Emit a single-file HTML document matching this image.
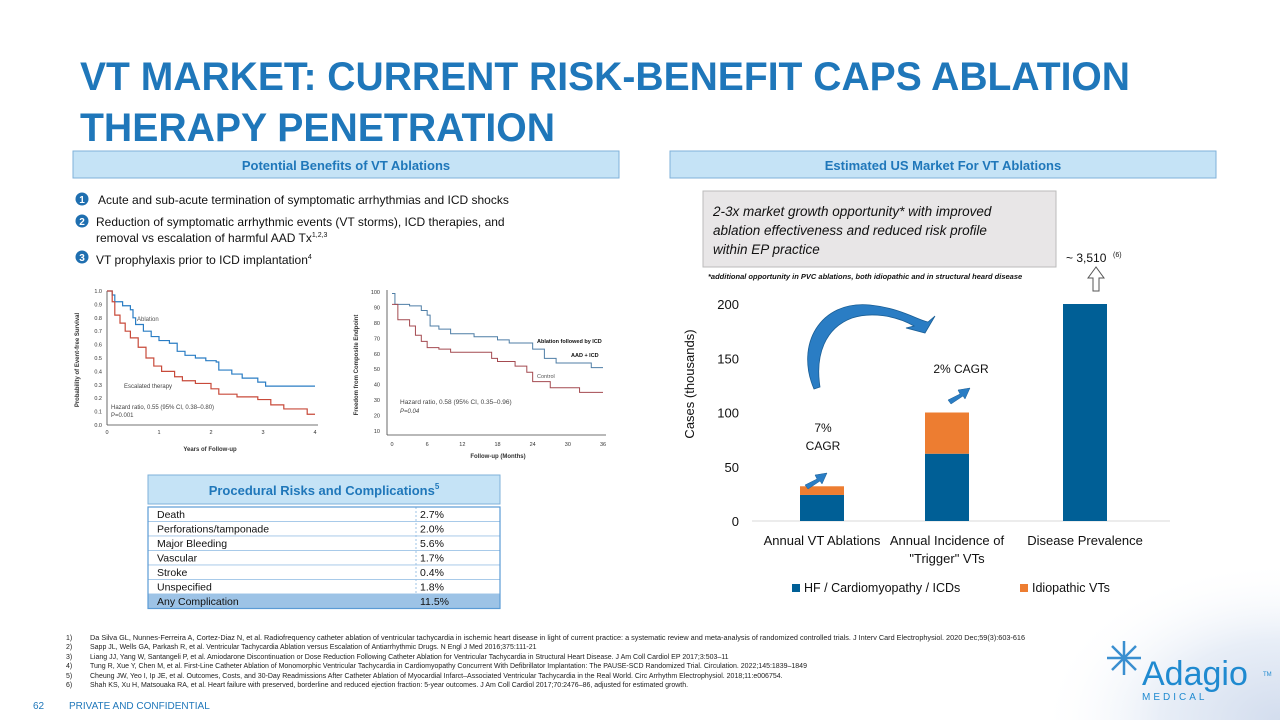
<!DOCTYPE html>
<html><head><meta charset="utf-8">
<style>
html,body{margin:0;padding:0;background:#fff;}
body{width:1280px;height:720px;overflow:hidden;position:relative;font-family:"Liberation Sans",sans-serif;}
svg text{font-family:"Liberation Sans",sans-serif;}
</style></head>
<body>
<svg id="s" width="1280" height="720" viewBox="0 0 1280 720" xmlns="http://www.w3.org/2000/svg">
<defs>
<radialGradient id="frost" cx="1" cy="1" r="1">
<stop offset="0" stop-color="#d3ddee"/><stop offset="0.5" stop-color="#e8eef7"/><stop offset="1" stop-color="#ffffff" stop-opacity="0"/>
</radialGradient>
</defs>
<rect x="1040" y="560" width="240" height="160" fill="url(#frost)"/>

<g fill="#1f77ba" font-weight="bold" font-size="40">
<text x="80" y="90" textLength="1050" lengthAdjust="spacingAndGlyphs">VT MARKET: CURRENT RISK-BENEFIT CAPS ABLATION</text>
<text x="80" y="141" textLength="475" lengthAdjust="spacingAndGlyphs">THERAPY PENETRATION</text>
</g>

<g>
<rect x="73" y="151" width="546" height="27" fill="#c5e3f6" stroke="#7fb2d9" stroke-width="1"/>
<text x="346" y="170" text-anchor="middle" font-size="13" font-weight="bold" fill="#1f77ba">Potential Benefits of VT Ablations</text>
</g>
<g>
<rect x="670" y="151" width="546" height="27" fill="#c5e3f6" stroke="#7fb2d9" stroke-width="1"/>
<text x="943" y="170" text-anchor="middle" font-size="13" font-weight="bold" fill="#1f77ba">Estimated US Market For VT Ablations</text>
</g>

<g font-size="12" fill="#111">
<circle cx="82" cy="199" r="6.5" fill="#1f6fb0"/><text x="82" y="203" text-anchor="middle" fill="#fff" font-size="10" font-weight="bold">1</text>
<text x="98" y="204">Acute and sub-acute termination of symptomatic arrhythmias and ICD shocks</text>
<circle cx="82" cy="221" r="6.5" fill="#1f6fb0"/><text x="82" y="225" text-anchor="middle" fill="#fff" font-size="10" font-weight="bold">2</text>
<text x="96" y="226">Reduction of symptomatic arrhythmic events (VT storms), ICD therapies, and</text>
<text x="96" y="242">removal vs escalation of harmful AAD Tx<tspan font-size="7" dy="-5">1,2,3</tspan></text>
<circle cx="82" cy="257" r="6.5" fill="#1f6fb0"/><text x="82" y="261" text-anchor="middle" fill="#fff" font-size="10" font-weight="bold">3</text>
<text x="96" y="264">VT prophylaxis prior to ICD implantation<tspan font-size="7" dy="-5">4</tspan></text>
</g>

<g id="km1"></g>
<g id="km2"></g>

<g>
<rect x="148" y="475" width="352" height="29" fill="#c5e3f6" stroke="#7fb2d9"/>
<text x="324" y="495" text-anchor="middle" font-size="13" font-weight="bold" fill="#1f77ba">Procedural Risks and Complications<tspan font-size="8" dy="-6">5</tspan></text>
</g>
<g id="tbl"></g>

<g>
<rect x="703" y="191" width="353" height="76" fill="#e8e6e7" stroke="#bbb"/>
<text font-size="13.5" font-style="italic" fill="#111"><tspan x="713" y="216">2-3x market growth opportunity* with improved</tspan><tspan x="713" y="235">ablation effectiveness and reduced risk profile</tspan><tspan x="713" y="254">within EP practice</tspan></text>
</g>
<text x="708" y="279" font-size="7.5" font-style="italic" font-weight="bold" fill="#111">*additional opportunity in PVC ablations, both idiopathic and in structural heard disease</text>
<g id="bar"></g>

<g font-size="7" fill="#222">
<text x="66" y="640">1)</text><text x="90" y="640" textLength="935" lengthAdjust="spacingAndGlyphs">Da Silva GL, Nunnes-Ferreira A, Cortez-Diaz N, et al. Radiofrequency catheter ablation of ventricular tachycardia in ischemic heart disease in light of current practice: a systematic review and meta-analysis of randomized controlled trials. J Interv Card Electrophysiol. 2020 Dec;59(3):603-616</text>
<text x="66" y="649">2)</text><text x="90" y="649">Sapp JL, Wells GA, Parkash R, et al. Ventricular Tachycardia Ablation versus Escalation of Antiarrhythmic Drugs. N Engl J Med 2016;375:111-21</text>
<text x="66" y="659">3)</text><text x="90" y="659">Liang JJ, Yang W, Santangeli P, et al. Amiodarone Discontinuation or Dose Reduction Following Catheter Ablation for Ventricular Tachycardia in Structural Heart Disease. J Am Coll Cardiol EP 2017;3:503–11</text>
<text x="66" y="668">4)</text><text x="90" y="668">Tung R, Xue Y, Chen M, et al. First-Line Catheter Ablation of Monomorphic Ventricular Tachycardia in Cardiomyopathy Concurrent With Defibrillator Implantation: The PAUSE-SCD Randomized Trial. Circulation. 2022;145:1839–1849</text>
<text x="66" y="678">5)</text><text x="90" y="678">Cheung JW, Yeo I, Ip JE, et al. Outcomes, Costs, and 30-Day Readmissions After Catheter Ablation of Myocardial Infarct–Associated Ventricular Tachycardia in the Real World. Circ Arrhythm Electrophysiol. 2018;11:e006754.</text>
<text x="66" y="687">6)</text><text x="90" y="687">Shah KS, Xu H, Matsouaka RA, et al. Heart failure with preserved, borderline and reduced ejection fraction: 5-year outcomes. J Am Coll Cardiol 2017;70:2476–86, adjusted for estimated growth.</text>
</g>
<text x="33" y="709" font-size="10" fill="#1f77ba">62</text>
<text x="69" y="709" font-size="10" fill="#1f77ba">PRIVATE AND CONFIDENTIAL</text>

<g>
<g stroke="#3a8fd0" stroke-width="2.5">
<line x1="1107" y1="658" x2="1141" y2="658"/><line x1="1124" y1="641" x2="1124" y2="675"/>
<line x1="1112" y1="646" x2="1136" y2="670"/><line x1="1136" y1="646" x2="1112" y2="670"/>
</g>
<text x="1142" y="685" font-size="34" fill="#1f8ad0">Adagio</text>
<text x="1142" y="700" font-size="10" fill="#1f8ad0" letter-spacing="3">MEDICAL</text>
<text x="1263" y="676" font-size="6" fill="#1f8ad0">TM</text>
</g>
</svg>

<script>
const km1Ablation = [[0,1],[0.1,0.97],[0.15,0.92],[0.3,0.89],[0.45,0.86],[0.5,0.8],[0.55,0.75],[0.7,0.7],[0.85,0.66],[1,0.63],[1.2,0.61],[1.35,0.55],[1.5,0.52],[1.7,0.5],[1.9,0.48],[2.1,0.47],[2.15,0.41],[2.4,0.38],[2.6,0.35],[2.9,0.32],[3.05,0.29],[4,0.29]];
const km1Escalated = [[0,1],[0.1,0.92],[0.15,0.82],[0.25,0.76],[0.35,0.7],[0.45,0.65],[0.6,0.58],[0.75,0.5],[0.9,0.44],[1.05,0.4],[1.3,0.36],[1.45,0.33],[1.7,0.31],[2,0.27],[2.15,0.23],[2.5,0.21],[2.9,0.19],[3.15,0.15],[3.4,0.12],[3.85,0.08],[4,0.08]];
const km1XTicks = [0,1,2,3,4];
const km1YTicks = [0,0.1,0.2,0.3,0.4,0.5,0.6,0.7,0.8,0.9,1.0];
const km2Ablation = [[0,99],[0.5,92],[3,91],[5,88],[6,85],[6.5,78],[8,76],[10,73],[14,71],[18,69],[20,67],[23,67],[24,63],[26,57],[28,54],[34,51],[36,51]];
const km2Control = [[0,92],[1,82],[3,78],[4,72],[5,68],[6,64],[8,63],[10,61],[17,57],[18,55],[21,52],[23,48],[24,42],[27,38],[32,35],[36,35]];
const km2XTicks = [0,6,12,18,24,30,36];
const km2YTicks = [10,20,30,40,50,60,70,80,90,100];
const barCategories = ["Annual VT Ablations","Annual Incidence of|\"Trigger\" VTs","Disease Prevalence"];
const barHF = [24,62,200];
const barIdio = [8,38,0];
const barYTicks = [0,50,100,150,200];
const riskLabels = ["Death","Perforations/tamponade","Major Bleeding","Vascular","Stroke","Unspecified","Any Complication"];
const riskValues = ["2.7%","2.0%","5.6%","1.7%","0.4%","1.8%","11.5%"];

const NS="http://www.w3.org/2000/svg";
function mk(parent,tag,attrs,txt){const e=document.createElementNS(NS,tag);for(const k in attrs)e.setAttribute(k,attrs[k]);if(txt!==undefined)e.textContent=txt;parent.appendChild(e);return e;}
function step(pts,sx,sy){let d="M"+sx(pts[0][0])+","+sy(pts[0][1]);for(let i=1;i<pts.length;i++){d+=" H"+sx(pts[i][0])+" V"+sy(pts[i][1]);}return d;}

(function(){
const g=document.getElementById('km1');
const sx=v=>107+v*(315-107)/4, sy=v=>425-v*(425-291);
mk(g,'line',{x1:107,y1:291,x2:107,y2:425,stroke:'#444','stroke-width':0.8});
mk(g,'line',{x1:107,y1:425,x2:318,y2:425,stroke:'#444','stroke-width':0.8});
km1YTicks.forEach(t=>{const l=mk(g,'text',{x:102,y:sy(t)+2,'font-size':5.5,'text-anchor':'end',fill:'#333'},t.toFixed(1));});
km1XTicks.forEach(t=>{const l=mk(g,'text',{x:sx(t),y:434,'font-size':5.5,'text-anchor':'middle',fill:'#333'},t);});
const a=mk(g,'path',{d:step(km1Ablation,sx,sy),fill:'none',stroke:'#2a7dc4','stroke-width':1.2});

const b=mk(g,'path',{d:step(km1Escalated,sx,sy),fill:'none',stroke:'#c84a3a','stroke-width':1.2});

mk(g,'text',{x:137,y:321,'font-size':6,fill:'#555'},'Ablation');
mk(g,'text',{x:124,y:388,'font-size':6,fill:'#444'},'Escalated therapy');
mk(g,'text',{x:111,y:409,'font-size':6,fill:'#444'},'Hazard ratio, 0.55 (95% CI, 0.38–0.80)');
mk(g,'text',{x:111,y:417,'font-size':6,fill:'#444'},'P=0.001');
mk(g,'text',{x:210,y:451,'font-size':6,'font-weight':'bold','text-anchor':'middle',fill:'#333'},'Years of Follow-up');
mk(g,'text',{x:0,y:0,'font-size':6,'font-weight':'bold','text-anchor':'middle',fill:'#333',transform:'translate(79,360) rotate(-90)'},'Probability of Event-free Survival');
})();

(function(){
const g=document.getElementById('km2');
const sx=v=>392+v*(603-392)/36, sy=v=>431-(v-10)*(431-292)/90;
mk(g,'line',{x1:387,y1:290,x2:387,y2:435,stroke:'#444','stroke-width':0.8});
mk(g,'line',{x1:387,y1:435,x2:606,y2:435,stroke:'#444','stroke-width':0.8});
km2YTicks.forEach(t=>{const l=mk(g,'text',{x:380,y:sy(t)+2,'font-size':5.5,'text-anchor':'end',fill:'#333'},t);});
km2XTicks.forEach(t=>{const l=mk(g,'text',{x:sx(t),y:446,'font-size':5.5,'text-anchor':'middle',fill:'#333'},t);});
const a=mk(g,'path',{d:step(km2Ablation,sx,sy),fill:'none',stroke:'#4f7ea6','stroke-width':1});

const b=mk(g,'path',{d:step(km2Control,sx,sy),fill:'none',stroke:'#a44a50','stroke-width':1});

mk(g,'text',{x:537,y:343,'font-size':5.5,'font-weight':'bold',fill:'#111'},'Ablation followed by ICD');
mk(g,'text',{x:571,y:357,'font-size':5.5,'font-weight':'bold',fill:'#111'},'AAD + ICD');
mk(g,'text',{x:537,y:378,'font-size':5.5,fill:'#555'},'Control');
mk(g,'text',{x:400,y:404,'font-size':6.5,fill:'#444'},'Hazard ratio, 0.58 (95% CI, 0.35–0.96)');
mk(g,'text',{x:400,y:413,'font-size':6,'font-style':'italic',fill:'#444'},'P=0.04');
mk(g,'text',{x:498,y:458,'font-size':6,'font-weight':'bold','text-anchor':'middle',fill:'#333'},'Follow-up (Months)');
mk(g,'text',{x:0,y:0,'font-size':6,'font-weight':'bold','text-anchor':'middle',fill:'#333',transform:'translate(358,365) rotate(-90)'},'Freedom from Composite Endpoint');
})();

(function(){
const g=document.getElementById('tbl');
const top=507,rh=14.5,x0=148,x1=500,xv=416;
riskLabels.forEach((lab,i)=>{
  const y=top+i*rh, last=i===riskLabels.length-1;
  const r=mk(g,'rect',{x:x0,y:y,width:x1-x0,height:rh,fill:last?'#9dc3e6':'#fff',stroke:'#9dc3e6','stroke-width':0.8});
  
  mk(g,'text',{x:157,y:y+11,'font-size':10.5,fill:'#111'},lab);
  mk(g,'text',{x:xv+4,y:y+11,'font-size':10.5,fill:'#111'},riskValues[i]);
});
mk(g,'line',{x1:xv,y1:top,x2:xv,y2:top+rh*7,stroke:'#9dc3e6','stroke-dasharray':'2,2'});
mk(g,'rect',{x:x0,y:top,width:x1-x0,height:rh*7,fill:'none',stroke:'#5b9bd5','stroke-width':1.2});
})();

(function(){
const g=document.getElementById('bar');
const y0=521, y200=304, sy=v=>y0-v*(y0-y200)/200;
const cx=[822,947,1085], bw=44;
mk(g,'line',{x1:752,y1:y0,x2:1170,y2:y0,stroke:'#d9d9d9','stroke-width':1});
barYTicks.forEach(t=>{const l=mk(g,'text',{x:739,y:sy(t)+5,'font-size':13,'text-anchor':'end',fill:'#111'},t);});
mk(g,'text',{x:0,y:0,'font-size':13,'text-anchor':'middle',fill:'#111',transform:'translate(694,384) rotate(-90)'},'Cases (thousands)');
barCategories.forEach((c,i)=>{
  const h=mk(g,'rect',{x:cx[i]-bw/2,y:sy(barHF[i]),width:bw,height:y0-sy(barHF[i]),fill:'#005f96'});
  
  if(barIdio[i]>0){const o=mk(g,'rect',{x:cx[i]-bw/2,y:sy(barHF[i]+barIdio[i]),width:bw,height:sy(barHF[i])-sy(barHF[i]+barIdio[i]),fill:'#ed7d31'});
  }
  c.split('|').forEach((ln,k)=>{const l=mk(g,'text',{x:cx[i],y:545+k*18,'font-size':13,'text-anchor':'middle',fill:'#111'},ln);});
});
mk(g,'text',{x:823,y:432,'font-size':12,'text-anchor':'middle',fill:'#111'},'7%');
mk(g,'text',{x:823,y:450,'font-size':12,'text-anchor':'middle',fill:'#111'},'CAGR');
mk(g,'text',{x:961,y:373,'font-size':12,'text-anchor':'middle',fill:'#111'},'2% CAGR');
mk(g,'text',{x:1066,y:262,'font-size':12,fill:'#111'},'~ 3,510');
mk(g,'text',{x:1113,y:257,'font-size':7,fill:'#111'},'(6)');
mk(g,'path',{d:'M1096,267 L1088,278 L1093,278 L1093,291 L1099,291 L1099,278 L1104,278 Z',fill:'#fff',stroke:'#555','stroke-width':1});
[[815,475],[958,390]].forEach(p=>{const a=mk(g,'path',{d:`M${p[0]-10},${p[1]+10} L${p[0]+2},${p[1]+4} L${p[0]},${p[1]} L${p[0]+12},${p[1]-2} L${p[0]+7},${p[1]+9} L${p[0]+5},${p[1]+6} L${p[0]-7},${p[1]+14} Z`,fill:'#2a7dc4',stroke:'#1a5e95','stroke-width':0.5});});
const big=mk(g,'path',{d:'M814,389 C795,345 820,300 870,305 C900,308 918,320 928,322 L935,316 L925,333 L906,328 L914,326 C895,315 870,312 852,318 C825,328 815,355 820,387 Z',fill:'#2a7dc4',stroke:'#1a5e95','stroke-width':0.8});

mk(g,'rect',{x:792,y:584,width:8,height:8,fill:'#005f96'});
mk(g,'text',{x:804,y:592,'font-size':12.5,fill:'#111'},'HF / Cardiomyopathy / ICDs');
mk(g,'rect',{x:1020,y:584,width:8,height:8,fill:'#ed7d31'});
mk(g,'text',{x:1032,y:592,'font-size':12.5,fill:'#111'},'Idiopathic VTs');
})();
</script>
</body></html>
